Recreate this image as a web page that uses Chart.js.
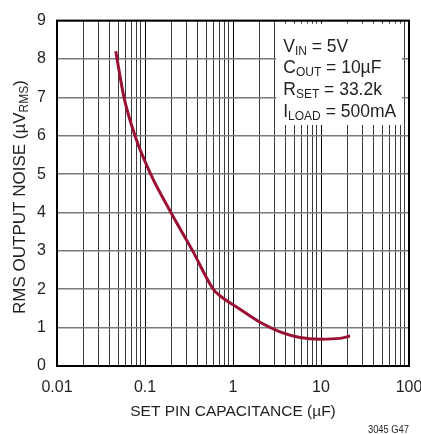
<!DOCTYPE html>
<html><head><meta charset="utf-8">
<script src="https://cdn.jsdelivr.net/npm/chart.js@4.4.1/dist/chart.umd.min.js"></script>
<style>html,body{margin:0;padding:0;background:#fff}</style>
</head><body>
<canvas id="c" width="421" height="434"></canvas>
<script>
// ---- data ----
const capacitance = [0.0465, 0.0577, 0.077, 0.116, 0.197, 0.348, 0.597, 0.711, 1.2, 2.03, 3.42, 5.77, 9.75, 16.4, 21.4];
const noise       = [8.2,    7.0,    6.0,   5.0,   4.0,   3.0,   2.0,   1.83,  1.48, 1.14, 0.89, 0.745, 0.70, 0.72, 0.78];
const xTickLabels = ['0.01', '0.1', '1', '10', '100'];
const yTickLabels = ['0', '1', '2', '3', '4', '5', '6', '7', '8', '9'];
const decades = [0.01, 0.1, 1, 10];
const xTitle = 'SET PIN CAPACITANCE (µF)';
const yTitleParts = [['RMS OUTPUT NOISE (µV', 0], ['RMS', 1], [')', 0]];
const conditionLines = [
  [['V', 0], ['IN', 1], [' = 5V', 0]],
  [['C', 0], ['OUT', 1], [' = 10µF', 0]],
  [['R', 0], ['SET', 1], [' = 33.2k', 0]],
  [['I', 0], ['LOAD', 1], [' = 500mA', 0]]
];
const footnote = '3045 G47';

const FAMILY = "'Liberation Sans', Arial, Helvetica, sans-serif";
const TEXT = '#231f20';

const gridValues = [];
decades.forEach(d => { for (let k = 1; k <= 9; k++) gridValues.push(+(k * d).toPrecision(6)); });
gridValues.push(100);

function isPow10(v) { const e = Math.log10(v); return Math.abs(e - Math.round(e)) < 1e-6; }

function richWidth(ctx, parts, mainPx, subPx) {
  let w = 0;
  parts.forEach(([t, sub]) => { ctx.font = (sub ? subPx : mainPx) + 'px ' + FAMILY; w += ctx.measureText(t).width; });
  return w;
}
function drawRich(ctx, parts, x, y, mainPx, subPx, shift) {
  let cx = x;
  parts.forEach(([t, sub]) => {
    ctx.font = (sub ? subPx : mainPx) + 'px ' + FAMILY;
    ctx.fillText(t, cx, sub ? y + shift : y);
    cx += ctx.measureText(t).width;
  });
}

const decor = {
  id: 'decor',
  beforeDatasetsDraw(chart) {
    const { ctx, scales: { x, y } } = chart;
    const bx0 = x.getPixelForValue(3.1), bx1 = x.getPixelForValue(83);
    const by0 = y.getPixelForValue(8.92), by1 = y.getPixelForValue(6.28);
    ctx.save();
    ctx.fillStyle = '#fff';
    ctx.fillRect(bx0, by0, bx1 - bx0, by1 - by0);
    ctx.fillStyle = TEXT;
    ctx.textBaseline = 'alphabetic';
    ctx.textAlign = 'left';
    conditionLines.forEach((parts, i) => {
      drawRich(ctx, parts, bx0 + 7, by0 + 28 + i * 21.7, 17.5, 12, 3);
    });
    ctx.restore();
  },
  afterDraw(chart) {
    const { ctx, chartArea: a } = chart;
    ctx.save();
    ctx.strokeStyle = '#000';
    ctx.lineWidth = 2;
    ctx.strokeRect(a.left, a.top, a.right - a.left, a.bottom - a.top);
    // y title
    ctx.fillStyle = TEXT;
    ctx.textBaseline = 'alphabetic';
    ctx.textAlign = 'left';
    const w = richWidth(ctx, yTitleParts, 17, 12);
    ctx.translate(25, 197);
    ctx.rotate(-Math.PI / 2);
    drawRich(ctx, yTitleParts, -w / 2, 0, 17, 12, 3);
    ctx.restore();
    // footnote
    ctx.save();
    ctx.fillStyle = TEXT;
    ctx.font = '11px ' + FAMILY;
    ctx.textAlign = 'right';
    ctx.textBaseline = 'alphabetic';
    ctx.translate(a.right, 433);
    ctx.scale(0.85, 1);
    ctx.fillText(footnote, 0, 0);
    ctx.restore();
  }
};

new Chart(document.getElementById('c'), {
  type: 'line',
  data: {
    datasets: [{
      data: capacitance.map((c, i) => ({ x: c, y: noise[i] })),
      borderColor: '#9b1134',
      borderWidth: 3,
      pointRadius: 0,
      tension: 0.4,
      cubicInterpolationMode: 'monotone',
      fill: false
    }]
  },
  options: {
    responsive: false,
    animation: false,
    layout: { padding: { left: 0, right: 12, top: 14, bottom: 13 } },
    plugins: { legend: { display: false }, tooltip: { enabled: false } },
    scales: {
      x: {
        type: 'logarithmic', min: 0.01, max: 100,
        afterBuildTicks: s => { s.ticks = gridValues.map(v => ({ value: v })); },
        afterFit: s => { s.height = 55; s.paddingLeft = 0; s.paddingRight = 0; },
        ticks: {
          autoSkip: false, maxRotation: 0, padding: 12, color: TEXT,
          font: { family: FAMILY, size: 16 },
          callback: v => isPow10(v) ? xTickLabels[Math.round(Math.log10(v)) + 2] : ''
        },
        grid: {
          drawTicks: false,
          color: c => (c.tick && isPow10(c.tick.value)) ? '#000' : '#3a3a3a',
          lineWidth: 1
        },
        border: { display: false },
        title: { display: true, text: xTitle, color: TEXT, font: { family: FAMILY, size: 15.5 }, padding: { top: 4, bottom: 0 } }
      },
      y: {
        min: 0, max: 9,
        afterFit: s => { s.width = 57; },
        ticks: {
          stepSize: 1, padding: 11, color: TEXT,
          font: { family: FAMILY, size: 16 },
          callback: v => yTickLabels[v]
        },
        grid: { drawTicks: false, color: '#7a7a7a', lineWidth: 1.6 },
        border: { display: false }
      }
    }
  },
  plugins: [decor]
});
</script>
</body></html>
